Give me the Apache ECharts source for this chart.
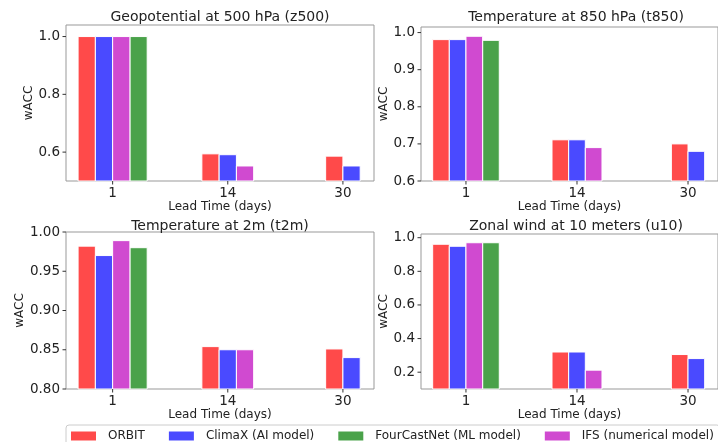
<!DOCTYPE html>
<html>
<head>
<meta charset="utf-8">
<title>wACC by lead time</title>
<script src="https://cdn.jsdelivr.net/npm/echarts@6/dist/echarts.min.js"></script>
<style>
  html, body { margin: 0; padding: 0; background: #fff; }
  #chart { width: 718px; height: 442px; }
</style>
</head>
<body>
<div id="chart"></div>
<script>
// 数据：横轴为预报时长（天），每个面板四个模型
const leadTimes = ['1', '14', '30']
const models = ['ORBIT', 'ClimaX (AI model)', 'FourCastNet (ML model)', 'IFS (numerical model)']

// 每行对应 models 中的一个模型，null 表示没有该柱
const z500Values = [
  [1.0, 0.594, 0.586],
  [1.0, 0.591, 0.552],
  [1.0, null, null],
  [1.0, 0.552, null]
]
const t850Values = [
  [0.981, 0.711, 0.70],
  [0.981, 0.711, 0.68],
  [0.979, null, null],
  [0.99, 0.69, null]
]
const t2mValues = [
  [0.982, 0.854, 0.851],
  [0.970, 0.850, 0.840],
  [0.980, null, null],
  [0.989, 0.850, null]
]
const u10Values = [
  [0.961, 0.32, 0.305],
  [0.949, 0.32, 0.281],
  [0.970, null, null],
  [0.970, 0.212, null]
]

const z500Ticks = [0.6, 0.8, 1.0]
const t850Ticks = [0.6, 0.7, 0.8, 0.9, 1.0]
const t2mTicks = [0.80, 0.85, 0.90, 0.95, 1.00]
const u10Ticks = [0.2, 0.4, 0.6, 0.8, 1.0]

// 样式
const colors = ['#ff4a4a', '#4a4aff', '#4aa24a', '#d04ad0']
const barOrder = [0, 1, 3, 2] // 组内从左到右：ORBIT, ClimaX, IFS, FourCastNet
const BAR_W = 0.15
const X_MIN = -0.405, X_MAX = 2.27
const TICK_LEN = 3.5
const FONT = 'DejaVu Sans'

const panels = [
  { title: 'Geopotential at 500 hPa (z500)', values: z500Values, ticks: z500Ticks, digits: 1,
    yMin: 0.5, yMax: 1.04, left: 66, top: 25, width: 308, height: 156, titleY: 17, nameGapY: 28 },
  { title: 'Temperature at 850 hPa (t850)', values: t850Values, ticks: t850Ticks, digits: 1,
    yMin: 0.6, yMax: 1.015, left: 421, top: 27, width: 310, height: 154, titleY: 17, nameGapY: 25 },
  { title: 'Temperature at 2m (t2m)', values: t2mValues, ticks: t2mTicks, digits: 2,
    yMin: 0.8, yMax: 1.0, left: 66, top: 232, width: 308, height: 157, titleY: 226, nameGapY: 38 },
  { title: 'Zonal wind at 10 meters (u10)', values: u10Values, ticks: u10Ticks, digits: 1,
    yMin: 0.1, yMax: 1.022, left: 421, top: 234, width: 310, height: 155, titleY: 226, nameGapY: 29 }
]

const axisText = { color: '#222', fontFamily: FONT, fontSize: 13.5 }

// 柱子：只让有数据的柱在组内居中排列
function makeRender(panel, model) {
  return function (params, api) {
    const i = api.value(0)
    const v = api.value(1)
    const present = barOrder.filter(m => panel.values[m][i] != null)
    const k = present.indexOf(model)
    const c = i + (k - (present.length - 1) / 2) * BAR_W
    const p0 = api.coord([c - BAR_W / 2, v])
    const p1 = api.coord([c + BAR_W / 2, panel.yMin])
    return {
      type: 'rect',
      shape: { x: p0[0], y: p0[1], width: p1[0] - p0[0], height: p1[1] - p0[1] },
      style: { fill: api.visual('color'), stroke: '#fff', lineWidth: 1 }
    }
  }
}

// 刻度线（axisTick.customValues 在纵轴上画错位置，这里自己画）
function tickSeries(panel, pi, axisDim) {
  return {
    type: 'custom', xAxisIndex: pi, yAxisIndex: pi, silent: true, clip: false, z: 5,
    data: axisDim === 'y' ? panel.ticks : leadTimes.map((_, i) => i),
    encode: axisDim === 'y' ? { y: 0 } : { x: 0 },
    renderItem: function (params, api) {
      const v = api.value(0)
      const p = axisDim === 'y' ? api.coord([X_MIN, v]) : api.coord([v, panel.yMin])
      const shape = axisDim === 'y'
        ? { x1: p[0] - TICK_LEN, y1: p[1], x2: p[0], y2: p[1] }
        : { x1: p[0], y1: p[1], x2: p[0], y2: p[1] + TICK_LEN }
      return { type: 'line', shape: shape, style: { stroke: '#333', lineWidth: 1 } }
    }
  }
}

const grid = [], xAxis = [], yAxis = [], series = [], graphic = []
panels.forEach((p, pi) => {
  grid.push({ left: p.left, top: p.top, width: p.width, height: p.height,
    show: true, borderColor: '#999', borderWidth: 1, containLabel: false })
  xAxis.push({
    type: 'value', gridIndex: pi, min: X_MIN, max: X_MAX,
    name: 'Lead Time (days)', nameLocation: 'middle', nameGap: 19,
    nameTextStyle: { color: '#222', fontFamily: FONT, fontSize: 12 },
    axisLine: { show: false },
    axisTick: { show: false },
    axisLabel: Object.assign({ customValues: [0, 1, 2], margin: 5, formatter: v => leadTimes[Math.round(v)] }, axisText),
    splitLine: { show: false }
  })
  yAxis.push({
    type: 'value', gridIndex: pi, min: p.yMin, max: p.yMax,
    name: 'wACC', nameLocation: 'middle', nameRotate: 90, nameGap: p.nameGapY,
    nameTextStyle: { color: '#222', fontFamily: FONT, fontSize: 12 },
    axisLine: { show: false },
    axisTick: { show: false },
    axisLabel: Object.assign({ customValues: p.ticks, margin: 6, formatter: v => v.toFixed(p.digits) }, axisText),
    splitLine: { show: false }
  })
  models.forEach((name, m) => {
    series.push({
      type: 'custom', name: name, xAxisIndex: pi, yAxisIndex: pi,
      itemStyle: { color: colors[m] },
      renderItem: makeRender(p, m),
      encode: { x: 0, y: 1 },
      data: p.values[m].map((v, i) => (v == null ? null : [i, v])).filter(d => d)
    })
  })
  series.push(tickSeries(p, pi, 'x'), tickSeries(p, pi, 'y'))
  graphic.push({
    type: 'text', x: p.left + 308 / 2 + (pi % 2 ? 1 : 0), y: p.titleY,
    style: { text: p.title, textAlign: 'center', textVerticalAlign: 'middle',
      fill: '#222', font: '14px "DejaVu Sans"' }
  })
})

const chart = echarts.init(document.getElementById('chart'))
chart.setOption({
  animation: false,
  backgroundColor: '#fff',
  grid, xAxis, yAxis, series, graphic,
  legend: {
    data: models, left: 66, top: 425, width: 700, icon: 'rect',
    itemWidth: 25, itemHeight: 9, itemGap: 24,
    padding: [5, 6, 5, 5],
    borderColor: '#ccc', borderWidth: 1, borderRadius: 3,
    textStyle: { color: '#222', fontFamily: FONT, fontSize: 12, padding: [0, 0, 0, 7] }
  }
})
window.addEventListener('resize', function () {
  chart.resize()
})
</script>
</body>
</html>
